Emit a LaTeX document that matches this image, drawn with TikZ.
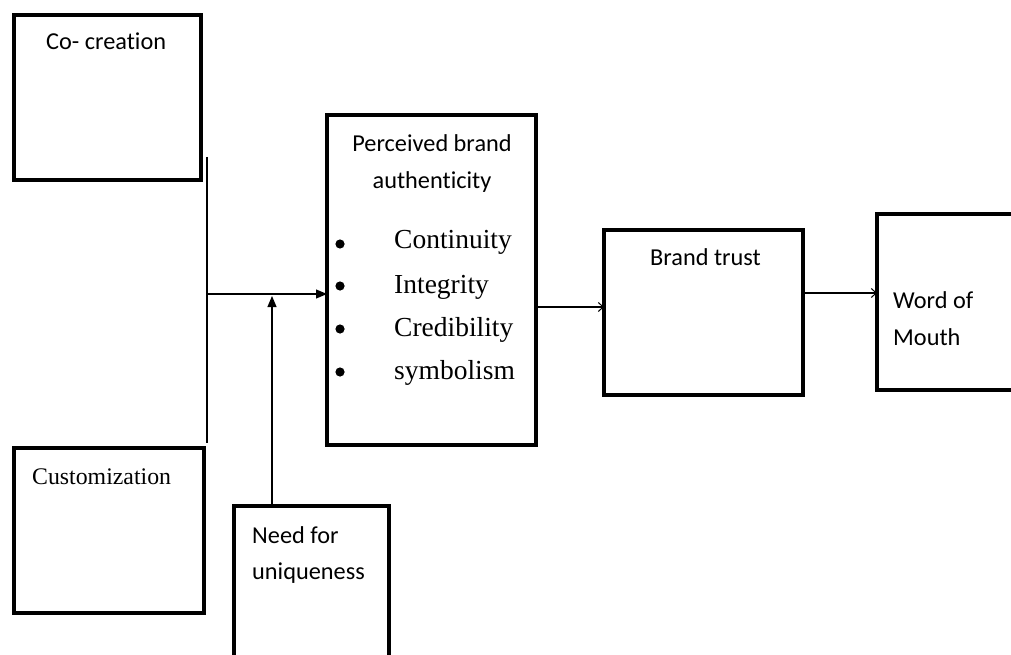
\documentclass[tikz,border=0pt]{standalone}
\usepackage{fontspec}
\setmainfont[Ligatures=NoCommon]{Carlito}
\newfontfamily\tnr{Liberation Serif}
\usetikzlibrary{arrows.meta}
\begin{document}
\begin{tikzpicture}[x=1pt,y=-1pt,
  box/.style={draw,line width=4.2pt,rectangle,inner sep=0pt,outer sep=0pt},
  lbl/.style={anchor=base west,inner sep=0pt,font=\fontsize{24.3}{24.3}\selectfont},
  clbl/.style={anchor=base,inner sep=0pt,font=\fontsize{24.3}{24.3}\selectfont},
  item/.style={anchor=base west,inner sep=0pt,font=\tnr\fontsize{27.5}{27.5}\selectfont},
  conn/.style={line width=1.1pt},
  fillhead/.style={-{Triangle[length=11pt,width=9pt]}},
  openhead/.style={-{Straight Barb[length=5pt,width=9pt,line width=1pt]}}
]
\useasboundingbox (0,0) rectangle (1011,655);
\fill[white] (0,0) rectangle (1011,655);

% boxes
\node[box,minimum width=187pt,minimum height=165pt] (cc) at (107.5,97.5) {};
\node[box,minimum width=190pt,minimum height=165pt] (cu) at (109,530.5) {};
\node[box,minimum width=155pt,minimum height=174pt] (nu) at (311.5,593) {};
\node[box,minimum width=209pt,minimum height=330pt] (pba) at (431.5,280) {};
\node[box,minimum width=199pt,minimum height=165pt] (bt) at (703.5,312.5) {};
\node[box,minimum width=153pt,minimum height=176pt] (wom) at (953.5,302) {};

% texts
\node[lbl] (tcc) at (46,50) {Co- creation};
\node[lbl,font=\tnr\fontsize{23.8}{23.8}\selectfont] (tcu) at (32,484) {Customization};
\node[lbl] (tnu1) at (252,543) {Need for};
\node[lbl] (tnu2) at (252,579) {uniqueness};
\node[clbl] (tp1) at (432,152) {Perceived brand};
\node[clbl] (tp2) at (432,189) {authenticity};
\node[item] (i1) at (394,248) {Continuity};
\node[item] (i2) at (394,293) {Integrity};
\node[item] (i3) at (394,336) {Credibility};
\node[item] (i4) at (394,379) {symbolism};
\foreach \yy/\nn in {244/b1,286/b2,329/b3,372/b4}
  \fill (340,\yy) circle (4.6pt) coordinate (\nn);
\node[lbl] (tbt) at (650,265) {Brand trust};
\node[lbl] (tw1) at (893,308) {Word of};
\node[lbl] (tw2) at (893,345) {Mouth};

% connectors
\coordinate (jt) at (207,157);
\coordinate (jb) at (207,443);
\coordinate (jm) at (207,294);
\coordinate (nt) at (272,504);
\coordinate (nh) at (272,296);
\draw[conn] (jt) -- (jb);
\draw[conn,fillhead] (jm) -- (jm -| pba.west);
\draw[conn,fillhead] (nt) -- (nh);
\coordinate (pe) at (pba.east |- 0,307);
\draw[conn,openhead] (pe) -- (pe -| bt.west);
\coordinate (be) at (bt.east |- 0,293);
\draw[conn,openhead] (be) -- (be -| wom.west);
\end{tikzpicture}
\end{document}
